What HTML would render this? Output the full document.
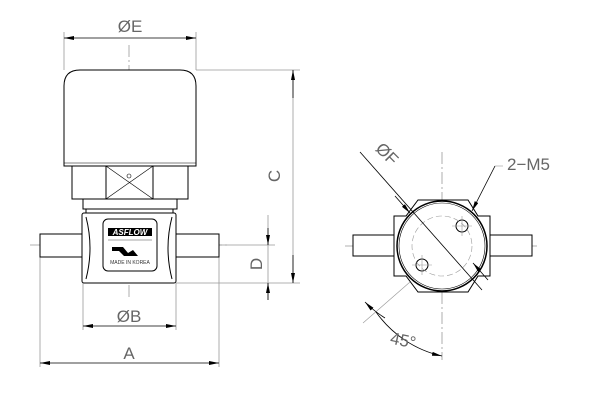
<!DOCTYPE html>
<html><head><style>html,body{margin:0;padding:0;background:#fff}svg{display:block}</style></head><body>
<svg width="600" height="400" viewBox="0 0 600 400" xmlns="http://www.w3.org/2000/svg" font-family="Liberation Sans, sans-serif">
<defs>
<marker id="ar" viewBox="0 0 10 4" refX="10" refY="2" markerWidth="10" markerHeight="4" orient="auto-start-reverse" markerUnits="userSpaceOnUse"><path d="M0,0 L10,2 L0,4 z" fill="#000"/></marker>
</defs>
<g fill="none" stroke="#999" stroke-width="0.8">
<!-- centerlines -->
<line x1="129" y1="45" x2="129" y2="300" stroke-dasharray="12,3,2,3"/>
<line x1="30" y1="245" x2="230" y2="245" stroke-dasharray="12,3,2,3"/>
<line x1="442" y1="152" x2="442" y2="360" stroke-dasharray="12,3,2,3"/>
<line x1="345" y1="246" x2="540" y2="246" stroke-dasharray="12,3,2,3"/>
<!-- extension lines -->
<line x1="64" y1="32" x2="64" y2="70"/><line x1="196" y1="32" x2="196" y2="70"/>
<line x1="196" y1="70" x2="300" y2="70"/><line x1="176" y1="283" x2="300" y2="283"/>
<line x1="219" y1="245" x2="275" y2="245"/>
<line x1="83" y1="283" x2="83" y2="330"/><line x1="176" y1="283" x2="176" y2="330"/>
<line x1="40" y1="257" x2="40" y2="367"/><line x1="219" y1="257" x2="219" y2="367"/>
<line x1="293" y1="70" x2="293" y2="283"/>
<line x1="268" y1="215" x2="268" y2="300"/>
</g>
<g stroke="#000" stroke-width="0.8">
<line x1="64" y1="38" x2="196" y2="38" marker-start="url(#ar)" marker-end="url(#ar)"/>
<line x1="83" y1="326" x2="176" y2="326" marker-start="url(#ar)" marker-end="url(#ar)"/>
<line x1="40" y1="363" x2="219" y2="363" marker-start="url(#ar)" marker-end="url(#ar)"/>
<line x1="293" y1="98" x2="293" y2="70" marker-end="url(#ar)"/>
<line x1="293" y1="255" x2="293" y2="283" marker-end="url(#ar)"/>
<line x1="268" y1="228" x2="268" y2="245" marker-end="url(#ar)"/>
<line x1="268" y1="300" x2="268" y2="283" marker-end="url(#ar)"/>
</g>
<g fill="#666" font-size="17">
<text x="130" y="32" text-anchor="middle">ØE</text>
<text x="129" y="322" text-anchor="middle">ØB</text>
<text x="129" y="359" text-anchor="middle">A</text>
<text x="0" y="0" transform="translate(280,176) rotate(-90)" text-anchor="middle">C</text>
<text x="0" y="0" transform="translate(262,264) rotate(-90)" text-anchor="middle">D</text>
</g>
<!-- left view -->
<g fill="#fff" stroke="#000" stroke-width="1">
<path d="M64,166 L64,86 Q64,70 80,70 L180,70 Q196,70 196,86 L196,166 Z"/>
<line x1="64" y1="163" x2="196" y2="163" stroke-width="0.5"/>
<rect x="72" y="166" width="116" height="33"/>
<rect x="106" y="166" width="47" height="33"/>
<line x1="106" y1="166" x2="153" y2="199" stroke-width="0.6"/><line x1="153" y1="166" x2="106" y2="199" stroke-width="0.6"/>
<circle cx="129" cy="176" r="2" stroke-width="0.6"/>
<rect x="83" y="199" width="94" height="10"/>
<rect x="86" y="209" width="87" height="4"/>
<rect x="40" y="234" width="42" height="23"/>
<rect x="176" y="234" width="43" height="23"/>
<rect x="82" y="213" width="94" height="70" rx="2"/>
<path d="M86,217 Q94,248 86,279" fill="none"/><path d="M172,217 Q164,248 172,279" fill="none"/>
<rect x="103" y="219" width="54" height="52" rx="5"/>
</g>
<rect x="108" y="228" width="44" height="8" fill="#000"/>
<text x="130" y="235" font-size="8" font-weight="bold" font-style="italic" fill="#fff" text-anchor="middle">ASFLOW</text>
<line x1="108" y1="240" x2="152" y2="240" stroke="#888" stroke-width="0.8"/>
<path d="M112,247 L123,247 L128,253 L133,250 L138,256 L124,256 L119,251 L112,251 Z" fill="#000"/>
<text x="130" y="264" font-size="5" fill="#333" text-anchor="middle">MADE IN KOREA</text>
<!-- right view -->
<g fill="#fff" stroke="#000" stroke-width="1">
<rect x="353" y="235" width="41" height="21"/>
<rect x="490" y="235" width="42" height="21"/>
<path d="M418,200 L468,200 L478,216 L490,216 L490,276 L478,276 L468,292 L418,292 L406,276 L394,276 L394,216 L406,216 Z"/>
<circle cx="442" cy="246" r="45" stroke-width="1.5"/>
<circle cx="442" cy="246" r="43" stroke-width="0.6"/>
<circle cx="462" cy="226" r="6"/><circle cx="422" cy="265" r="6"/>
</g>
<g fill="none" stroke="#999" stroke-width="0.6">
<circle cx="442" cy="246" r="30" stroke-dasharray="6,3"/>
<line x1="452" y1="226" x2="472" y2="226"/><line x1="462" y1="216" x2="462" y2="236"/>
<line x1="412" y1="265" x2="432" y2="265"/><line x1="422" y1="255" x2="422" y2="275"/>
<line x1="495" y1="166" x2="503" y2="166"/>
<line x1="410" y1="282" x2="363" y2="323"/>
</g>
<g stroke="#000" stroke-width="0.8" fill="none">
<line x1="360" y1="152" x2="482" y2="290"/>
<line x1="395" y1="196" x2="410" y2="213" marker-end="url(#ar)"/>
<line x1="488" y1="280" x2="473" y2="263" marker-end="url(#ar)"/>
<line x1="495" y1="166" x2="472" y2="211" marker-end="url(#ar)"/>
<path d="M376,312 A 110 110 0 0 0 442 356" marker-end="url(#ar)"/>
<path d="M385,318 A 110 110 0 0 1 365 302" marker-end="url(#ar)"/>
</g>
<g fill="#666" font-size="17">
<text x="0" y="0" transform="translate(383,158) rotate(45)" text-anchor="middle">ØF</text>
<text x="507" y="170">2−M5</text>
<text x="0" y="0" transform="translate(402,346) rotate(12)" text-anchor="middle">45°</text>
</g>
</svg>
</body></html>
